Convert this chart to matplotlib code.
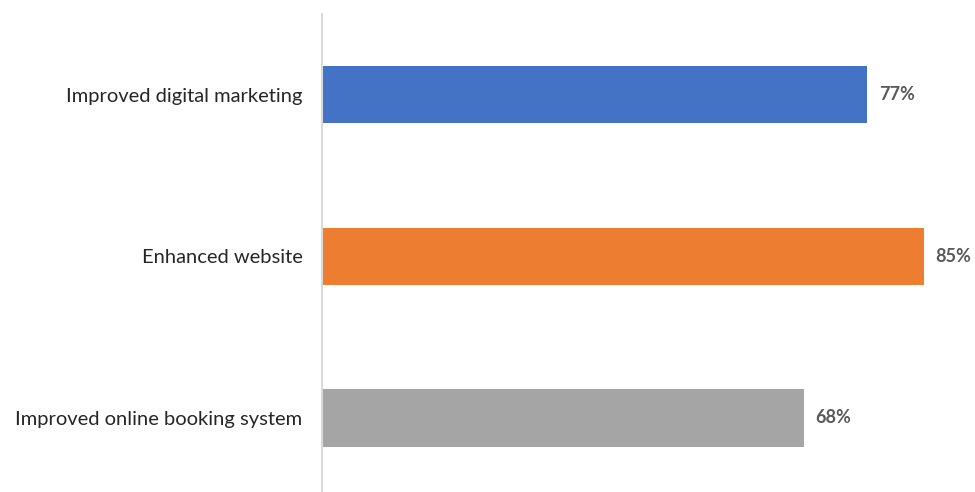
import matplotlib
matplotlib.use("Agg")
import matplotlib.pyplot as plt

categories = ["Improved digital marketing", "Enhanced website", "Improved online booking system"]
values = [77, 85, 68]
colors = ["#4472C4", "#ED7D31", "#A5A5A5"]

plt.rcParams['font.family'] = ['Lato', 'DejaVu Sans']

fig = plt.figure(figsize=(9.75, 4.92), dpi=100)
ax = fig.add_axes([322 / 975, 0, 1 - 322 / 975, (492 - 14) / 492])

pos = list(range(len(categories)))
bars = ax.barh(pos, values, height=0.355, color=colors, edgecolor="none")

ax.set_xlim(0, 92.2)
ax.set_ylim(2.458, -0.5)

for p, v in zip(pos, values):
    ax.text(v + 1.6, p, f"{v}%", va="center", ha="left",
            fontsize=13, fontweight="bold", color="#595959")

ax.set_yticks(pos)
ax.set_yticklabels(categories, fontsize=14.5, color="#262626")
ax.tick_params(axis="y", length=0, pad=14)
ax.set_xticks([])

for s in ["top", "right", "bottom"]:
    ax.spines[s].set_visible(False)
ax.spines["left"].set_color("#D9D9D9")
ax.spines["left"].set_linewidth(1.5)

fig.savefig("out.png", dpi=100)
